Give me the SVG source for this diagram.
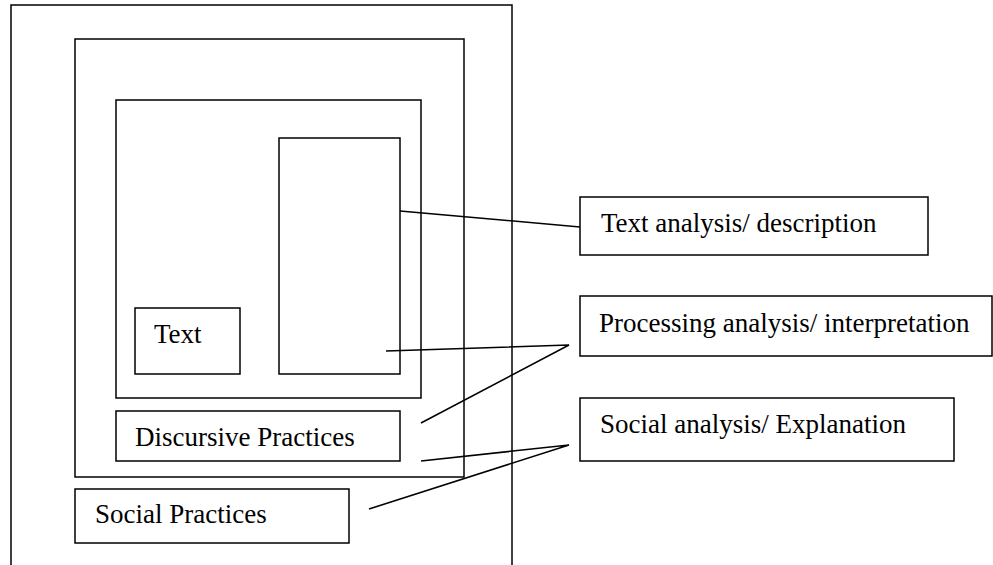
<svg xmlns="http://www.w3.org/2000/svg" width="993" height="565" viewBox="0 0 993 565">
<style>
.b{fill:none;stroke:#000;stroke-width:1.5}
.t{font-family:"Liberation Serif","Times New Roman",serif;font-size:27px;fill:#000}
.c{fill:none;stroke:#000;stroke-width:1.5}
</style>
<rect width="993" height="565" fill="#fff"/>
<g id="outer"><rect class="b" x="11" y="5" width="501" height="570"/></g>
<g id="social-level"><rect class="b" x="75" y="39" width="389" height="438"/></g>
<g id="discursive-level"><rect class="b" x="116" y="100" width="305" height="298"/></g>
<g id="text-level"><rect class="b" x="279" y="138" width="121" height="236"/></g>
<g id="text"><rect class="b" x="135" y="308" width="105" height="66"/><text class="t" x="154" y="343">Text</text></g>
<g id="discursive-practices"><rect class="b" x="116" y="411" width="284" height="50"/><text class="t" x="135" y="446">Discursive Practices</text></g>
<g id="social-practices"><rect class="b" x="75" y="489" width="274" height="54"/><text class="t" x="95" y="523">Social Practices</text></g>
<g id="text-analysis"><rect class="b" x="580" y="197" width="348" height="58"/><text class="t" x="601" y="232">Text analysis/ description</text></g>
<g id="processing-analysis"><rect class="b" x="580" y="296" width="412" height="60"/><text class="t" x="599" y="332">Processing analysis/ interpretation</text></g>
<g id="social-analysis"><rect class="b" x="580" y="398" width="374" height="63"/><text class="t" x="600" y="433">Social analysis/ Explanation</text></g>
<g id="connectors">
<line class="c" x1="400" y1="211" x2="580" y2="227"/>
<polyline class="c" points="386,351 569,345 421,423"/>
<polyline class="c" points="421,461 569,445 369,509"/>
</g>
</svg>
